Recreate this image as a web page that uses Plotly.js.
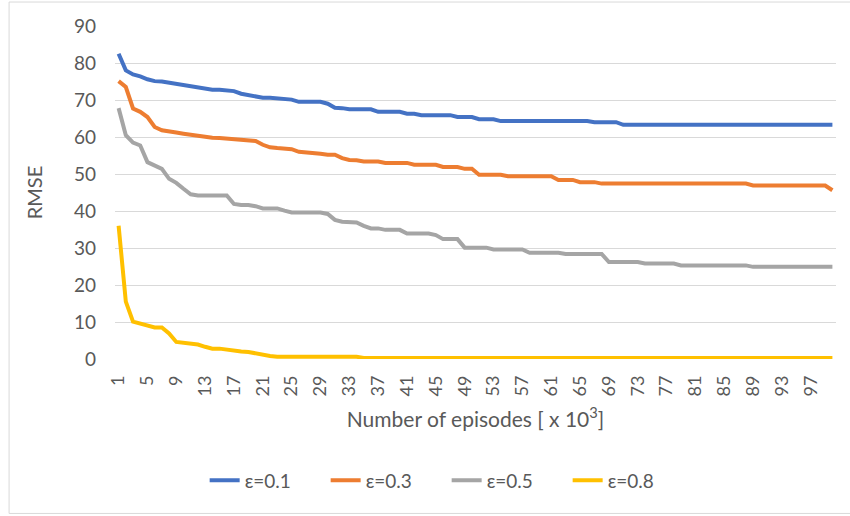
<!DOCTYPE html>
<html>
<head>
<meta charset="utf-8">
<script src="https://cdn.plot.ly/plotly-3.0.1.min.js"></script>
<style>
  html, body { margin: 0; padding: 0; background: #fff; }
  #chart { width: 850px; height: 516px; }
</style>
</head>
<body>
<div id="chart"></div>
<script>
// Episodes (in thousands)
const episodes = [
  1, 2, 3, 4, 5, 6, 7, 8, 9, 10, 11, 12, 13, 14, 15, 16, 17, 18, 19, 20,
  21, 22, 23, 24, 25, 26, 27, 28, 29, 30, 31, 32, 33, 34, 35, 36, 37, 38, 39, 40,
  41, 42, 43, 44, 45, 46, 47, 48, 49, 50, 51, 52, 53, 54, 55, 56, 57, 58, 59, 60,
  61, 62, 63, 64, 65, 66, 67, 68, 69, 70, 71, 72, 73, 74, 75, 76, 77, 78, 79, 80,
  81, 82, 83, 84, 85, 86, 87, 88, 89, 90, 91, 92, 93, 94, 95, 96, 97, 98, 99, 100
];

// RMSE for each exploration rate
const rmseEps01 = [
  82.5, 78.0, 76.9, 76.4, 75.6, 75.1, 75.0, 74.7, 74.4, 74.2,
  73.8, 73.4, 73.1, 72.8, 72.8, 72.5, 72.4, 71.7, 71.3, 70.9,
  70.6, 70.6, 70.5, 70.2, 70.1, 69.5, 69.5, 69.5, 69.5, 69.0,
  67.9, 67.8, 67.5, 67.5, 67.5, 67.5, 66.8, 66.8, 66.8, 66.8,
  66.3, 66.3, 65.9, 65.9, 65.9, 65.9, 65.9, 65.4, 65.4, 65.4,
  64.8, 64.8, 64.8, 64.3, 64.3, 64.3, 64.3, 64.3, 64.3, 64.3,
  64.3, 64.3, 64.3, 64.3, 64.3, 64.3, 64.0, 64.0, 64.0, 64.0,
  63.3, 63.3, 63.3, 63.3, 63.3, 63.3, 63.3, 63.3, 63.3, 63.3,
  63.3, 63.3, 63.3, 63.3, 63.3, 63.3, 63.3, 63.3, 63.3, 63.3,
  63.3, 63.3, 63.3, 63.3, 63.3, 63.3, 63.3, 63.3, 63.3, 63.3
];
const rmseEps03 = [
  75.1, 73.5, 67.7, 66.8, 65.4, 62.7, 61.8, 61.4, 61.2, 60.9,
  60.6, 60.3, 59.9, 59.8, 59.7, 59.5, 59.4, 59.1, 59.1, 58.9,
  57.9, 57.2, 57.0, 56.8, 56.7, 56.0, 55.9, 55.7, 55.5, 55.2,
  55.2, 54.3, 53.8, 53.7, 53.4, 53.4, 53.4, 53.0, 53.0, 53.0,
  53.0, 52.5, 52.5, 52.5, 52.5, 51.9, 51.9, 51.9, 51.4, 51.4,
  49.8, 49.8, 49.8, 49.8, 49.4, 49.4, 49.4, 49.4, 49.4, 49.4,
  49.4, 48.4, 48.4, 48.4, 47.8, 47.8, 47.8, 47.4, 47.4, 47.4,
  47.4, 47.4, 47.4, 47.4, 47.4, 47.4, 47.4, 47.4, 47.4, 47.4,
  47.4, 47.4, 47.4, 47.4, 47.4, 47.4, 47.4, 47.4, 46.9, 46.9,
  46.9, 46.9, 46.9, 46.9, 46.9, 46.9, 46.9, 46.9, 46.9, 45.6
];
const rmseEps05 = [
  67.8, 60.5, 58.5, 57.7, 53.2, 52.2, 51.4, 48.7, 47.6, 46.0,
  44.5, 44.2, 44.2, 44.2, 44.2, 44.2, 41.9, 41.6, 41.6, 41.3,
  40.7, 40.7, 40.7, 40.1, 39.6, 39.6, 39.6, 39.6, 39.6, 39.2,
  37.6, 37.1, 37.1, 36.9, 36.0, 35.3, 35.3, 34.9, 34.9, 34.9,
  33.9, 33.9, 33.9, 33.9, 33.5, 32.4, 32.4, 32.4, 30.1, 30.1,
  30.1, 30.1, 29.6, 29.6, 29.6, 29.6, 29.6, 28.7, 28.7, 28.7,
  28.7, 28.7, 28.4, 28.4, 28.4, 28.4, 28.4, 28.4, 26.2, 26.2,
  26.2, 26.2, 26.2, 25.8, 25.8, 25.8, 25.8, 25.8, 25.3, 25.3,
  25.3, 25.3, 25.3, 25.3, 25.3, 25.3, 25.3, 25.3, 24.9, 24.9,
  24.9, 24.9, 24.9, 24.9, 24.9, 24.9, 24.9, 24.9, 24.9, 24.9
];
const rmseEps08 = [
  36.0, 15.5, 10.1, 9.5, 9.0, 8.5, 8.5, 6.9, 4.6, 4.4,
  4.0, 3.9, 3.3, 2.8, 2.8, 2.5, 2.4, 2.0, 1.9, 1.5,
  1.2, 0.8, 0.6, 0.6, 0.6, 0.6, 0.6, 0.6, 0.6, 0.6,
  0.6, 0.6, 0.6, 0.6, 0.3, 0.3, 0.3, 0.3, 0.3, 0.3,
  0.3, 0.3, 0.3, 0.3, 0.3, 0.3, 0.3, 0.3, 0.3, 0.3,
  0.3, 0.3, 0.3, 0.3, 0.3, 0.3, 0.3, 0.3, 0.3, 0.3,
  0.3, 0.3, 0.3, 0.3, 0.3, 0.3, 0.3, 0.3, 0.3, 0.3,
  0.3, 0.3, 0.3, 0.3, 0.3, 0.3, 0.3, 0.3, 0.3, 0.3,
  0.3, 0.3, 0.3, 0.3, 0.3, 0.3, 0.3, 0.3, 0.3, 0.3,
  0.3, 0.3, 0.3, 0.3, 0.3, 0.3, 0.3, 0.3, 0.3, 0.3
];

const seriesNames = ['ε=0.1', 'ε=0.3', 'ε=0.5', 'ε=0.8'];
const seriesColors = ['#4472C4', '#ED7D31', '#A5A5A5', '#FFC000'];

// Category labels shown along the x axis (every fourth episode)
const xTickLabels = ['1', '5', '9', '13', '17', '21', '25', '29', '33', '37', '41', '45', '49',
  '53', '57', '61', '65', '69', '73', '77', '81', '85', '89', '93', '97'];
const yTickLabels = ['0', '10', '20', '30', '40', '50', '60', '70', '80', '90'];

const FONT = 'Lato, "Open Sans", sans-serif';
const TEXT_GREY = '#595959';

const allSeries = [rmseEps01, rmseEps03, rmseEps05, rmseEps08];
const traces = allSeries.map((vals, i) => ({
  type: 'scatter',
  mode: 'lines',
  x: episodes,
  y: vals,
  name: seriesNames[i],
  line: { color: seriesColors[i], width: 4 },
  hoverinfo: 'x+y+name'
}));

const layout = {
  width: 850,
  height: 516,
  margin: { l: 114.5, r: 14, t: 26, b: 157.3 },
  paper_bgcolor: '#ffffff',
  plot_bgcolor: '#ffffff',
  font: { family: FONT, color: TEXT_GREY, size: 17 },
  showlegend: true,
  legend: {
    orientation: 'h',
    x: 0.46,
    xanchor: 'center',
    y: -0.3646,
    yanchor: 'middle',
    font: { family: FONT, size: 19, color: TEXT_GREY },
    entrywidth: 76,
    entrywidthmode: 'pixels',
    traceorder: 'normal'
  },
  xaxis: {
    range: [0.5, 100.5],
    tickmode: 'array',
    tickvals: xTickLabels.map(Number),
    ticktext: xTickLabels,
    tickangle: -90,
    ticks: '',
    ticklabelstandoff: 12,
    showgrid: false,
    zeroline: false,
    showline: false,
    tickfont: { family: FONT, size: 18, color: TEXT_GREY },
    title: {
      text: 'Number of episodes [ x 10<sup>3</sup>]',
      font: { family: FONT, size: 21, color: TEXT_GREY },
      standoff: 16
    },
    fixedrange: true
  },
  yaxis: {
    range: [0, 90],
    tickmode: 'array',
    tickvals: yTickLabels.map(Number),
    ticktext: yTickLabels,
    ticks: '',
    ticklabelstandoff: 18,
    showgrid: true,
    gridcolor: '#d9d9d9',
    gridwidth: 1,
    zeroline: false,
    showline: false,
    tickfont: { family: FONT, size: 19, color: TEXT_GREY },
    title: {
      text: 'RMSE',
      font: { family: FONT, size: 20, color: TEXT_GREY },
      standoff: 25
    },
    fixedrange: true
  },
  shapes: [
    // outer chart frame
    {
      type: 'rect', xref: 'paper', yref: 'paper',
      x0: -0.1469, x1: 1.03, y0: -0.4638, y1: 1.072,
      line: { color: '#d9d9d9', width: 1 },
      fillcolor: 'rgba(0,0,0,0)',
      layer: 'below'
    }
  ]
};

Plotly.newPlot('chart', traces, layout, { displayModeBar: false, staticPlot: true });
</script>
</body>
</html>
